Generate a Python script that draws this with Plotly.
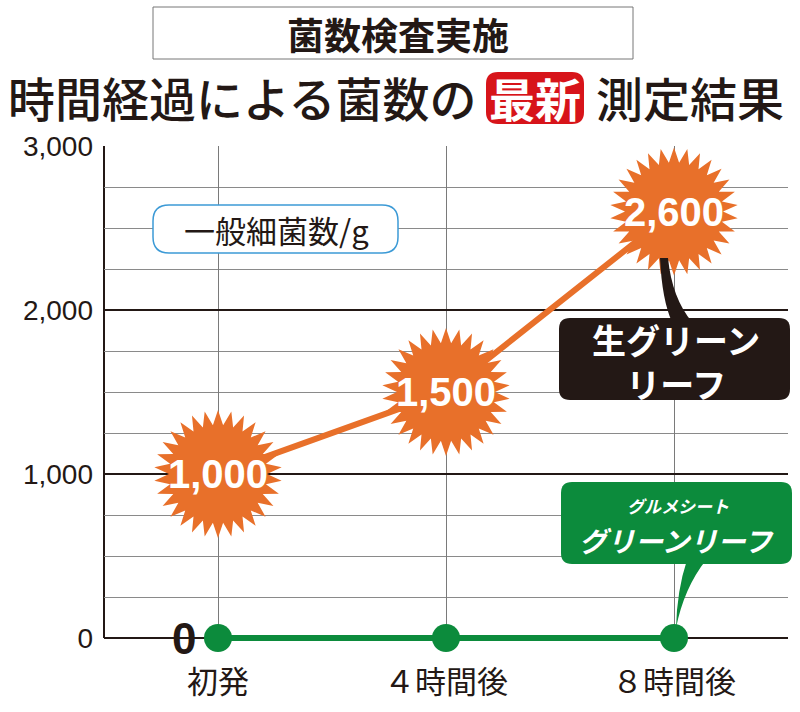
import math
import plotly.graph_objects as go

# ---------------- data ----------------
categories = ["初発", "４時間後", "８時間後"]
x_pos = [0, 1, 2]
nama_values = [1000, 1500, 2600]          # 生グリーンリーフ
gurume_values = [0, 0, 0]                 # グルメシート グリーンリーフ
value_labels = ["1,000", "1,500", "2,600"]
y_tickvals = [0, 1000, 2000, 3000]
y_ticktext = ["0", "1,000", "2,000", "3,000"]

# ---------------- geometry helpers (layout only) ----------------
FW, FH = 800, 712
L, R, T = 104, 788, 146
B0 = 638                     # pixel row of value 0
PAD = 5                      # extra room below zero so the green line is not clipped
B = B0 + PAD
W, H = R - L, B - T
Y_MIN = -PAD * 3000 / (B0 - T)


def px(x):
    return (x - L) / W


def py(y):
    return (B - y) / H


def rrect(x0, y0, x1, y1, r):
    return (f"M {px(x0 + r)},{py(y0)} L {px(x1 - r)},{py(y0)} "
            f"Q {px(x1)},{py(y0)} {px(x1)},{py(y0 + r)} L {px(x1)},{py(y1 - r)} "
            f"Q {px(x1)},{py(y1)} {px(x1 - r)},{py(y1)} L {px(x0 + r)},{py(y1)} "
            f"Q {px(x0)},{py(y1)} {px(x0)},{py(y1 - r)} L {px(x0)},{py(y0 + r)} "
            f"Q {px(x0)},{py(y0)} {px(x0 + r)},{py(y0)} Z")


def star_path(n=30, ro=64, ri=49):
    pts = []
    for k in range(2 * n):
        a = math.pi * k / n - math.pi / 2
        r = ro if k % 2 == 0 else ri
        pts.append((r * math.cos(a), r * math.sin(a)))
    return "M " + " L ".join(f"{x:.2f},{y:.2f}" for x, y in pts) + " Z"


ORANGE = "#E8702A"
GREEN = "#0C8B3C"
DARK = "#231815"
RED = "#D7141A"
BLUE = "#3C9AD6"
JP = "Noto Sans CJK JP"
NUM = "Liberation Sans, Arial, sans-serif"

fig = go.Figure()

fig.add_trace(go.Scatter(
    x=x_pos, y=nama_values, mode="lines",
    line=dict(color=ORANGE, width=6), hoverinfo="skip"))
fig.add_trace(go.Scatter(
    x=x_pos, y=gurume_values, mode="lines+markers",
    line=dict(color=GREEN, width=6),
    marker=dict(color=GREEN, size=28), hoverinfo="skip", cliponaxis=False))

shapes = []
annotations = []

# left axis line from 0 to top
shapes.append(dict(type="line", xref="paper", yref="y", x0=0, x1=0, y0=0, y1=3000,
                   line=dict(color=DARK, width=2), layer="below"))

# starbursts at each data point
for xv, yv, lab in zip(x_pos, nama_values, value_labels):
    shapes.append(dict(type="path", xref="x", yref="y",
                       xsizemode="pixel", ysizemode="pixel",
                       xanchor=xv, yanchor=yv, path=star_path(),
                       fillcolor=ORANGE, line=dict(width=0), layer="above"))
    annotations.append(dict(x=xv, y=yv, xref="x", yref="y", text=lab,
                            showarrow=False, xanchor="center", yanchor="middle",
                            font=dict(family=NUM, size=40, color="white", weight="bold")))

# bold zero label next to first green point
annotations.append(dict(x=px(184), y=py(638), xref="paper", yref="paper", text="0",
                        showarrow=False, xanchor="center", yanchor="middle",
                        font=dict(family="Liberation Sans, Arial", size=44, color=DARK,
                                  weight="bold")))

# title box
shapes.append(dict(type="rect", xref="paper", yref="paper",
                   x0=px(153), x1=px(633), y0=py(7), y1=py(59),
                   line=dict(color="#777777", width=1), fillcolor="white", layer="above"))
annotations.append(dict(x=px(398), y=py(34), xref="paper", yref="paper",
                        text="菌数検査実施", showarrow=False,
                        xanchor="center", yanchor="middle",
                        font=dict(family=JP, size=37, color=DARK, weight="bold")))

# main title
annotations.append(dict(x=px(6), y=py(97), xref="paper", yref="paper",
                        text="時間経過による菌数の", showarrow=False,
                        xanchor="left", yanchor="middle",
                        font=dict(family=JP, size=47, color=DARK, weight=500)))
shapes.append(dict(type="path", xref="paper", yref="paper",
                   path=rrect(486, 72, 584, 124, 12), fillcolor=RED,
                   line=dict(width=0), layer="above"))
annotations.append(dict(x=px(535), y=py(97), xref="paper", yref="paper",
                        text="最新", showarrow=False,
                        xanchor="center", yanchor="middle",
                        font=dict(family=JP, size=46, color="white", weight="bold")))
annotations.append(dict(x=px(594), y=py(97), xref="paper", yref="paper",
                        text="測定結果", showarrow=False,
                        xanchor="left", yanchor="middle",
                        font=dict(family=JP, size=47, color=DARK, weight=500)))

# unit label box
shapes.append(dict(type="path", xref="paper", yref="paper",
                   path=rrect(153, 205, 398, 253, 16), fillcolor="white",
                   line=dict(color=BLUE, width=1.5), layer="above"))
annotations.append(dict(x=px(276), y=py(229), xref="paper", yref="paper",
                        text="一般細菌数/g", showarrow=False,
                        xanchor="center", yanchor="middle",
                        font=dict(family=JP, size=31, color=DARK)))

# black callout (生グリーンリーフ)
shapes.append(dict(type="path", xref="paper", yref="paper",
                   path=(f"M {px(660)},{py(258)} Q {px(662)},{py(300)} {px(672)},{py(322)} "
                         f"L {px(692)},{py(322)} Q {px(672)},{py(298)} {px(668)},{py(258)} Z"),
                   fillcolor=DARK, line=dict(width=0), layer="above"))
shapes.append(dict(type="path", xref="paper", yref="paper",
                   path=rrect(559, 318, 790, 400, 11), fillcolor=DARK,
                   line=dict(width=0), layer="above"))
annotations.append(dict(x=px(676), y=py(361), xref="paper", yref="paper",
                        text="生グリーン<br>リーフ", showarrow=False,
                        xanchor="center", yanchor="middle",
                        font=dict(family=JP, size=34, color="white", weight="bold"),
                        ))

# green callout (グルメシート グリーンリーフ)
shapes.append(dict(type="path", xref="paper", yref="paper",
                   path=(f"M {px(687)},{py(560)} Q {px(677)},{py(590)} {px(676)},{py(628)} "
                         f"Q {px(684)},{py(588)} {px(706)},{py(560)} Z"),
                   fillcolor=GREEN, line=dict(width=0), layer="above"))
shapes.append(dict(type="path", xref="paper", yref="paper",
                   path=rrect(561, 482, 792, 564, 11), fillcolor=GREEN,
                   line=dict(width=0), layer="above"))
annotations.append(dict(x=px(678), y=py(505), xref="paper", yref="paper",
                        text="<i>グルメシート</i>", showarrow=False,
                        xanchor="center", yanchor="middle",
                        font=dict(family=JP, size=17, color="white", weight="bold")))
annotations.append(dict(x=px(676), y=py(540), xref="paper", yref="paper",
                        text="<i>グリーンリーフ</i>", showarrow=False,
                        xanchor="center", yanchor="middle",
                        font=dict(family=JP, size=28, color="white", weight="bold")))

fig.update_layout(
    width=FW, height=FH, autosize=False,
    margin=dict(l=L, r=FW - R, t=T, b=FH - B, pad=0, autoexpand=False),
    paper_bgcolor="white", plot_bgcolor="white",
    showlegend=False,
    shapes=shapes, annotations=annotations,
    xaxis=dict(range=[-0.5, 2.5], tickvals=x_pos, ticktext=categories,
               showgrid=True, gridcolor="#7a7a7a", gridwidth=1,
               zeroline=False, showline=False, automargin=False,
               ticks="", ticklabelstandoff=18, layer="below traces",
               tickfont=dict(family=JP, size=31, color=DARK), fixedrange=True),
    yaxis=dict(range=[Y_MIN, 3000], tickvals=y_tickvals, ticktext=y_ticktext,
               showgrid=True, gridcolor=DARK, gridwidth=2,
               minor=dict(dtick=250, showgrid=True, gridcolor="#8a8a8a", gridwidth=1),
               zeroline=False, showline=False, automargin=False,
               ticks="", ticklabelstandoff=10, layer="below traces",
               tickfont=dict(family="Liberation Sans, Arial", size=28, color=DARK),
               fixedrange=True),
)

fig.write_html("out.html",
               config={"displayModeBar": False},
               post_script="document.body.style.margin='0';document.body.style.padding='0';")
